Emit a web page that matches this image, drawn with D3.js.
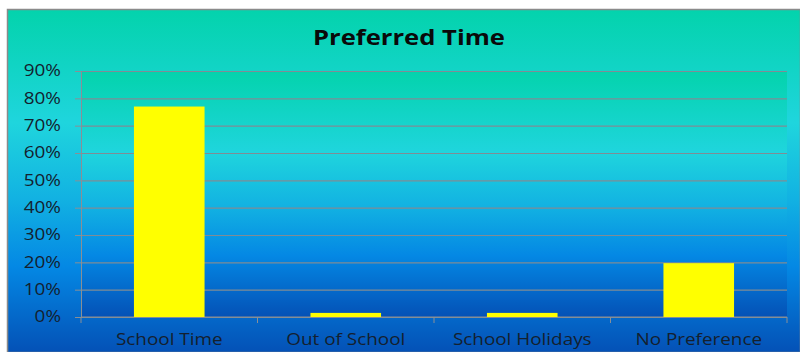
<!DOCTYPE html>
<html>
<head>
<meta charset="utf-8">
<script src="https://cdn.jsdelivr.net/npm/d3@7"></script>
<style>
  body { margin: 0; background: #fff; }
  svg text { font-family: 'Open Sans', 'Noto Sans', sans-serif; }
</style>
</head>
<body>
<svg id="chart" width="800" height="352"></svg>
<script>
const categories = ['School Time', 'Out of School', 'School Holidays', 'No Preference'];
const values = [0.77, 0.015, 0.015, 0.197];
const yTicks = [0, 0.1, 0.2, 0.3, 0.4, 0.5, 0.6, 0.7, 0.8, 0.9];
const title = 'Preferred Time';

const width = 800,
  height = 352,
  frame = { left: 8, top: 10 },
  margin = { top: 71, right: 13, bottom: 35, left: 81 },
  chartWidth = width - margin.left - margin.right,
  chartHeight = height - margin.top - margin.bottom,
  stretch = 1.22; // the original text is drawn horizontally stretched

const svg = d3.select('#chart');
const defs = svg.append('defs');

// same vertical gradient for the chart area and the plot area
const stops = [
  ['0%', '#03d3ac'],
  ['33%', '#1fd5dd'],
  ['55%', '#12b2e2'],
  ['75%', '#0488e4'],
  ['100%', '#0451b6']
];
const grad = defs.append('linearGradient')
  .attr('id', 'bg')
  .attr('x1', 0).attr('y1', 0).attr('x2', 0).attr('y2', 1);
grad.selectAll('stop')
  .data(stops)
  .enter()
  .append('stop')
  .attr('offset', d => d[0])
  .attr('stop-color', d => d[1]);

svg.append('rect')
  .attr('x', frame.left - 0.5)
  .attr('y', frame.top - 0.5)
  .attr('width', width - frame.left + 1)
  .attr('height', height - frame.top + 1)
  .attr('fill', 'url(#bg)')
  .attr('stroke', '#8a8a8a')
  .attr('stroke-width', 1.5);

const g = svg.append('g')
  .attr('transform', 'translate(' + margin.left + ',' + margin.top + ')');

g.append('rect')
  .attr('width', chartWidth)
  .attr('height', chartHeight)
  .attr('fill', 'url(#bg)');

const x = d3.scaleBand()
  .domain(categories)
  .range([0, chartWidth])
  .paddingInner(0.6)
  .paddingOuter(0.3);

const y = d3.scaleLinear()
  .domain([0, 0.9])
  .range([chartHeight, 0]);

// gridlines
g.append('g')
  .attr('class', 'y grid')
  .call(d3.axisLeft(y).tickValues(yTicks).tickSize(-chartWidth).tickFormat(''))
  .call(s => s.select('.domain').remove())
  .call(s => s.selectAll('line').attr('stroke', '#7f8c95').attr('stroke-width', 1.2));

// y axis, labels stretched like the original
const yAxisLayer = g.append('g')
  .attr('class', 'y axis')
  .call(d3.axisLeft(y).tickValues(yTicks).tickSize(6).tickFormat(''))
  .call(s => s.select('.domain').attr('stroke', '#8a8f95'))
  .call(s => s.selectAll('line').attr('stroke', '#8a8f95'));
yAxisLayer.selectAll('.ylabel')
  .data(yTicks)
  .enter()
  .append('text')
  .attr('class', 'ylabel')
  .attr('transform', d => 'translate(-20,' + y(d) + ') scale(' + stretch + ',1)')
  .attr('dy', '0.35em')
  .attr('text-anchor', 'end')
  .attr('font-size', 15.5)
  .attr('fill', '#14202e')
  .text(d3.format('.0%'));

// x axis with ticks at category boundaries
const bounds = d3.range(categories.length + 1).map(i => i * chartWidth / categories.length);
const xAxisLayer = g.append('g')
  .attr('class', 'x axis')
  .attr('transform', 'translate(0,' + chartHeight + ')');
xAxisLayer.append('line')
  .attr('x1', 0).attr('x2', chartWidth)
  .attr('stroke', '#8a8f95');
xAxisLayer.selectAll('.tick-mark')
  .data(bounds)
  .enter()
  .append('line')
  .attr('class', 'tick-mark')
  .attr('x1', d => d).attr('x2', d => d)
  .attr('y1', 0).attr('y2', 6)
  .attr('stroke', '#8a8f95');
xAxisLayer.selectAll('.cat-label')
  .data(categories)
  .enter()
  .append('text')
  .attr('class', 'cat-label')
  .attr('transform', d => 'translate(' + (x(d) + x.bandwidth() / 2) + ',28) scale(' + stretch + ',1)')
  .attr('text-anchor', 'middle')
  .attr('font-size', 15.5)
  .attr('fill', '#14202e')
  .text(d => d);

// bars
g.append('g')
  .selectAll('rect')
  .data(values)
  .enter()
  .append('rect')
  .attr('x', (d, i) => x(categories[i]))
  .attr('y', d => y(d))
  .attr('width', x.bandwidth())
  .attr('height', d => chartHeight - y(d))
  .attr('fill', '#ffff00');

svg.append('text')
  .attr('transform', 'translate(409,45) scale(' + stretch + ',1)')
  .attr('text-anchor', 'middle')
  .attr('font-size', 21)
  .attr('font-weight', 'bold')
  .attr('fill', '#0a0a0a')
  .text(title);
</script>
</body>
</html>
